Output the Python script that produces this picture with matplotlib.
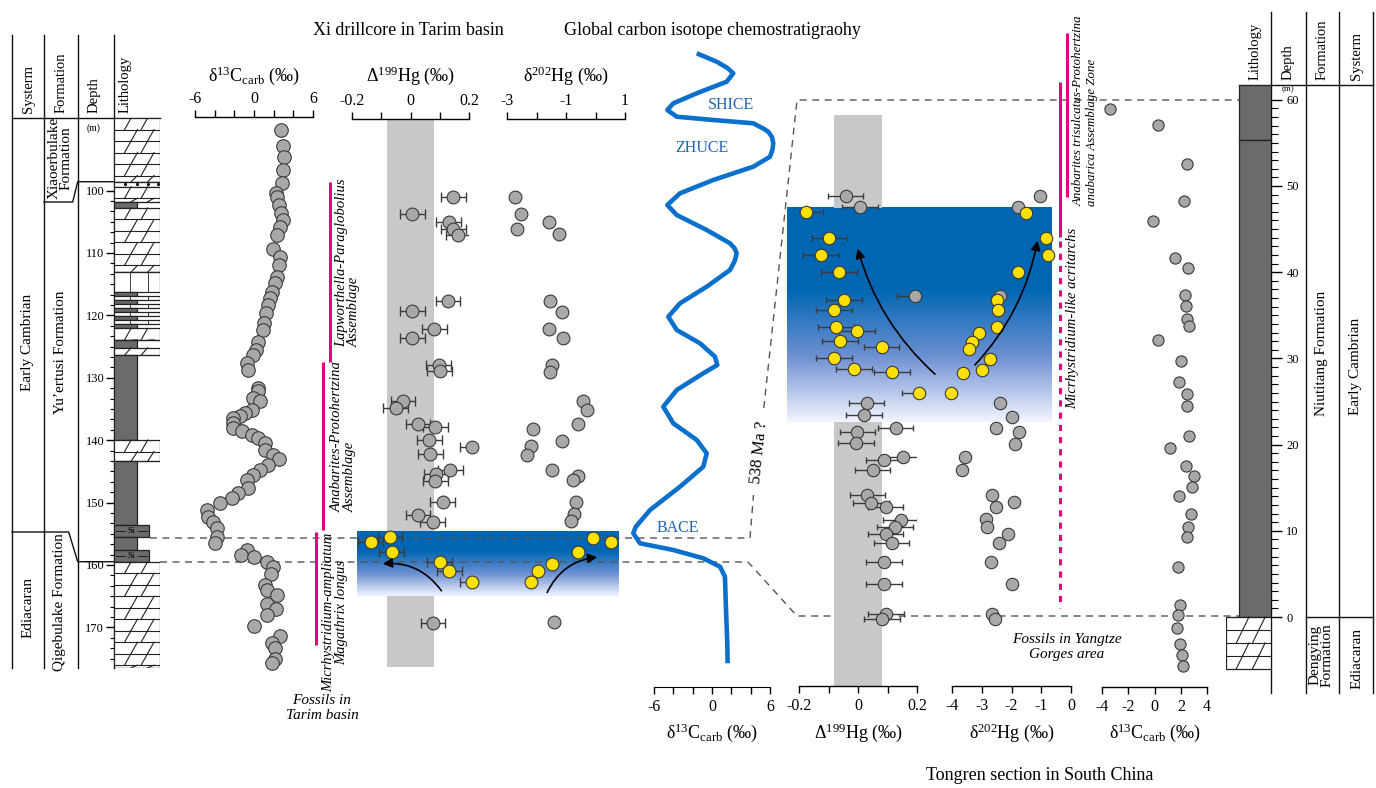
import matplotlib
matplotlib.use("Agg")
import matplotlib.pyplot as plt
import numpy as np
from matplotlib.patches import Rectangle
from matplotlib.colors import LinearSegmentedColormap
from matplotlib.ticker import FuncFormatter

plt.rcParams['font.family'] = ['Liberation Serif', 'DejaVu Serif']
plt.rcParams['mathtext.fontset'] = 'custom'
plt.rcParams['mathtext.rm'] = 'Liberation Serif'
plt.rcParams['mathtext.it'] = 'Liberation Serif:italic'
plt.rcParams['axes.unicode_minus'] = False

# ---------------- Xi drillcore, Tarim basin (depth in m) ----------------
xi_c_depth = [90.3, 92.8, 94.6, 96.7, 98.8, 100.4, 101.1, 102.4, 103.6, 104.7, 105.8, 107.1,
              109.4, 110.7, 111.9, 113.8, 114.9, 116.2, 117.3, 118.3, 119.7, 121.3, 122.4,
              124.2, 125.6, 126.4, 127.7, 128.8, 131.7, 132.2, 133.3, 133.8, 135.2, 135.7,
              136.2, 136.5, 137.3, 138.1, 138.6, 139.2, 139.7, 140.5, 141.6, 142.4, 143.1,
              144.0, 144.8, 145.6, 146.4, 147.7, 148.5, 149.3, 150.1, 151.2, 152.3, 153.1,
              154.1, 155.5, 156.5, 157.6, 158.4, 158.7, 159.5, 160.3, 161.4, 163.2, 164.0,
              164.8, 166.2, 167.0, 168.0, 169.8, 171.4, 172.5, 173.3, 175.0, 175.7]
xi_c = [2.71, 2.98, 3.09, 2.98, 2.81, 2.24, 2.37, 2.58, 2.75, 2.98, 2.64, 2.31,
        1.96, 2.64, 2.58, 2.31, 2.14, 1.80, 1.63, 1.39, 1.22, 1.02, 0.95,
        0.44, 0.20, -0.07, -0.74, -0.58, 0.44, 0.44, -0.07, 0.61, -0.24, -0.92,
        -1.42, -2.10, -2.10, -2.10, -1.25, -0.24, 0.44, 1.12, 1.12, 1.96, 2.58,
        1.46, 0.61, -0.07, -0.74, -0.58, -1.59, -2.27, -3.46, -4.81, -4.64, -4.14,
        -3.79, -3.79, -3.97, -0.68, -1.36, 0.00, 1.29, 1.96, 1.70, 1.12, 1.29,
        2.31, 1.29, 2.24, 1.29, 0.00, 2.64, 1.80, 2.14, 2.14, 1.80]

xi_d199_depth = [101.0, 103.7, 105.0, 106.1, 107.1, 117.7, 119.3, 122.2, 123.6, 128.0, 129.0,
                 133.7, 134.9, 137.4, 137.9, 140.0, 141.1, 142.2, 144.8, 145.5, 146.6,
                 150.0, 152.0, 153.1, 169.3]
xi_d199 = [0.147, 0.006, 0.130, 0.147, 0.164, 0.128, 0.006, 0.082, 0.006, 0.096, 0.100,
           -0.026, -0.051, 0.025, 0.085, 0.064, 0.211, 0.068, 0.136, 0.087, 0.085,
           0.110, 0.025, 0.076, 0.077]
xi_d202_depth = [101.1, 103.7, 105.0, 106.2, 107.0, 117.7, 119.4, 122.2, 123.7, 128.0, 129.1,
                 133.7, 135.1, 137.4, 138.2, 140.1, 140.9, 142.4, 144.8, 145.7, 146.4,
                 150.0, 151.9, 152.9, 169.2]
xi_d202 = [-2.73, -2.53, -1.58, -2.67, -1.24, -1.55, -1.15, -1.57, -1.09, -1.46, -1.54,
           -0.42, -0.28, -0.61, -2.11, -1.15, -2.17, -2.31, -1.46, -0.61, -0.75,
           -0.67, -0.72, -0.83, -1.40]
xi_hg_err = 0.042

xi_y199_depth = [156.3, 155.6, 157.9, 159.6, 161.0, 162.8]
xi_y199 = [-0.136, -0.070, -0.064, 0.100, 0.133, 0.210]
xi_y202_depth = [155.7, 156.3, 158.0, 159.8, 161.0, 162.8]
xi_y202 = [-0.07, 0.52, -0.61, -1.49, -1.96, -2.19]

# lithology of the drillcore: top, base (m) and rock type
xi_bed_top = [88.4, 98.6, 99.4, 101.8, 102.8, 113.1, 116.2, 116.9, 117.5, 118.2, 118.8,
              119.5, 120.1, 120.8, 121.4, 122.1, 124.0, 125.2, 126.4, 140.0, 143.4,
              153.6, 155.5, 157.6, 159.5]
xi_bed_base = [98.6, 99.4, 101.8, 102.8, 113.1, 116.2, 116.9, 117.5, 118.2, 118.8, 119.5,
               120.1, 120.8, 121.4, 122.1, 124.0, 125.2, 126.4, 140.0, 143.4, 153.6,
               155.5, 157.6, 159.5, 176.5]
xi_bed_kind = ['ls', 'dots', 'ls', 'mud', 'ls', 'thin', 'mud', 'thin', 'mud', 'thin', 'mud',
               'thin', 'mud', 'thin', 'mud', 'ls', 'mud', 'ls', 'mud', 'ls', 'mud',
               'si', 'mud', 'si', 'ls']

# shaded excursion interval and the Δ199Hg background range
xi_shade = (154.6, 165.0)
hg_band = (-0.08, 0.08)

# ---------------- global composite δ13C curve ----------------
curve_h = [633.7, 625.3, 619.0, 613.7, 605.3, 593.7, 583.7, 577.0, 570.3, 567.0, 563.7,
           558.5, 555.3, 550.0, 543.7, 537.0, 530.3, 520.3, 507.0, 493.7, 482.0, 472.0,
           457.0, 443.7, 438.5, 433.7, 426.0, 417.0, 400.3, 383.7, 370.3, 357.0, 343.7,
           330.3, 322.0, 313.7, 297.0, 280.3, 263.7, 247.0, 233.7, 220.3, 200.3, 177.0,
           160.0, 153.7, 143.7, 137.0, 128.7, 120.3, 110.3, 77.0, 43.7, 23.7]
curve_c = [-1.58, 0.49, 1.60, 2.20, 1.52, -1.58, -4.00, -4.62, -3.65, 0.13, 4.27,
           5.30, 5.82, 6.20, 6.34, 6.25, 6.00, 4.27, 0.13, -3.31, -4.62, -3.65,
           -0.55, 1.86, 2.35, 2.55, 2.35, 1.86, -0.55, -3.31, -4.52, -3.65, -1.24,
           0.31, 0.55, -0.90, -3.65, -5.04, -4.00, -1.58, -0.55, -0.90, -3.31, -6.41,
           -7.90, -8.14, -7.45, -4.00, -0.90, 0.83, 1.34, 1.45, 1.58, 1.62]
curve_events = ['SHICE', 'ZHUCE', 'BACE']

# ---------------- Tongren section, South China (height in m) ----------------
tr_g199_depth = [48.8, 47.6, 37.2, 24.8, 23.4, 21.9, 21.5, 20.2, 18.6, 18.2, 17.0, 14.2,
                 13.2, 12.8, 11.3, 10.4, 9.6, 8.6, 6.4, 3.8, 0.3, -0.2]
tr_g199 = [-0.042, 0.007, 0.193, 0.029, 0.020, 0.128, -0.002, -0.007, 0.152, 0.088, 0.050,
           0.032, 0.044, 0.094, 0.145, 0.125, 0.094, 0.114, 0.088, 0.088, 0.095, 0.081]
tr_g202_depth = [48.8, 47.6, 37.2, 24.8, 23.2, 21.9, 21.5, 20.1, 18.6, 17.0, 14.2, 13.3,
                 12.8, 11.4, 10.4, 9.6, 8.6, 6.4, 3.8, 0.3, -0.2]
tr_g202 = [-1.04, -1.77, -2.39, -2.39, -1.99, -2.52, -1.74, -1.88, -3.56, -3.65, -2.65, -1.91,
           -2.53, -2.86, -2.81, -2.11, -2.42, -2.70, -1.99, -2.67, -2.55]
tr_y199_depth = [47.0, 44.0, 42.0, 40.0, 36.8, 35.6, 33.6, 33.2, 32.0, 31.3, 30.0, 28.8,
                 28.4, 26.0]
tr_y199 = [-0.177, -0.097, -0.125, -0.064, -0.047, -0.081, -0.075, -0.004, -0.061, 0.080,
           -0.081, -0.014, 0.115, 0.208]
tr_y202_depth = [46.9, 44.0, 42.0, 40.0, 36.8, 35.6, 33.6, 33.0, 31.9, 31.1, 29.9, 28.7,
                 28.3, 26.0]
tr_y202 = [-1.51, -0.85, -0.76, -1.79, -2.48, -2.44, -2.50, -3.10, -3.32, -3.43, -2.72,
           -3.00, -3.62, -4.04]
tr_hg_err = 0.06

tr_c_depth = [58.9, 57.1, 52.5, 48.3, 45.9, 41.7, 40.5, 37.4, 36.1, 34.6, 33.8, 32.1,
              29.7, 27.3, 25.9, 24.5, 21.0, 19.6, 17.5, 16.4, 15.1, 14.0, 12.0, 10.4,
              9.3, 5.8, 1.4, 0.2, -1.3, -3.1, -4.4, -5.7]
tr_c = [-3.36, 0.25, 2.44, 2.24, -0.10, 1.58, 2.52, 2.31, 2.37, 2.49, 2.62, 0.28,
        2.04, 1.86, 2.49, 2.44, 2.62, 1.17, 2.37, 3.00, 2.82, 1.86, 2.75, 2.54,
        2.44, 1.78, 1.93, 1.78, 1.73, 1.93, 2.11, 2.16]

tr_bed_top = [61.7, 55.3, 0.0]
tr_bed_base = [55.3, 0.0, -6.0]
tr_bed_kind = ['mud', 'mud', 'ls']
tr_shade = (22.6, 47.45)
tr_band_span = (-8.0, 58.2)

GREY = '#a8a8a8'
YELLOW = '#ffe000'
EDGE = '#3a3a3a'
MAGENTA = '#e4007f'
CURVE = '#0a70cc'
EVENT = '#1f63b5'

W, H = 1376, 788
fig = plt.figure(figsize=(W / 100, H / 100), dpi=100)


def px_axes(x0, y0, x1, y1, z=1):
    ax = fig.add_axes([x0 / W, 1 - y1 / H, (x1 - x0) / W, (y1 - y0) / H], zorder=z)
    ax.patch.set_visible(False)
    return ax


def canvas(z):
    ax = px_axes(0, 0, W, H, z)
    ax.set_xlim(0, W)
    ax.set_ylim(H, 0)
    ax.axis('off')
    return ax


bg = canvas(0)
fg = canvas(5)


def xi_y(d):
    return 190.5 + (d - 100) * 6.24


def xi_d(y):
    return 100 + (y - 190.5) / 6.24


def tr_y(d):
    return 617 - d * 8.62


def tr_d(y):
    return (617 - y) / 8.62


fmt = FuncFormatter(lambda v, p: '%g' % v)


def iso_axis(x0, x1, y0, y1, xlim, major, minor, side, depth_of):
    ax = px_axes(x0, y0, x1, y1)
    ax.set_xlim(*xlim)
    ax.set_ylim(depth_of(y1), depth_of(y0))
    for s in ('left', 'right', 'top', 'bottom'):
        ax.spines[s].set_visible(s == side)
    ax.spines[side].set_linewidth(1)
    if side == 'top':
        ax.xaxis.tick_top()
    ax.set_xticks(major)
    ax.set_xticks(minor, minor=True)
    ax.xaxis.set_major_formatter(fmt)
    ax.tick_params(axis='x', which='both', direction='out', length=5, width=1,
                   labelsize=11.5, pad=2 if side == 'top' else 3.5)
    ax.set_yticks([])
    return ax


def dots(ax, x, d, fc, s, xerr=None, cap=3.5):
    if xerr is not None:
        ax.errorbar(x, d, xerr=xerr, fmt='none', ecolor='#3c3c3c', elinewidth=1,
                    capsize=cap, capthick=1, zorder=2)
    ax.scatter(x, d, s=s, c=fc, edgecolors=EDGE, linewidths=0.8, zorder=3, clip_on=False)


def draw_beds(ax, tops, bases, kinds, widths, row, down):
    # down=True when values grow downward on the axis (depth), False for height
    for top, base, kind in zip(tops, bases, kinds):
        x0, x1 = widths[kind]
        w = x1 - x0
        lo, hi = min(top, base), max(top, base)
        if kind in ('mud', 'si'):
            ax.add_patch(Rectangle((x0, lo), w, hi - lo, fc='#6b6b6b', ec='#222222', lw=0.9))
            if kind == 'si':
                mid = (lo + hi) / 2
                ax.text(x0 + 0.5 * w, mid, 'Si', fontsize=6.5, ha='center', va='center')
                ax.plot([x0 + 0.05 * w, x0 + 0.32 * w], [mid, mid], color='#222222', lw=0.7)
                ax.plot([x0 + 0.68 * w, x0 + 0.95 * w], [mid, mid], color='#222222', lw=0.7)
            continue
        ax.add_patch(Rectangle((x0, lo), w, hi - lo, fc='white', ec='#222222', lw=0.9))
        if kind == 'ls':
            r, i = lo, 0
            while r < hi - 1e-6:
                r2 = min(r + row, hi)
                ax.plot([x0, x1], [r2, r2], color='#222222', lw=0.8)
                low, up = (r2, r) if down else (r, r2)
                off = 0.14 if i % 2 else 0.0
                for xc in (0.3 + off, 0.66 + off):
                    ax.plot([x0 + (xc - 0.07) * w, x0 + (xc + 0.07) * w], [low, up],
                            color='#222222', lw=0.8)
                r, i = r2, i + 1
        elif kind == 'thin':
            for xc in (0.35, 0.75):
                ax.plot([x0 + xc * w] * 2, [lo, hi], color='#222222', lw=0.6)
        elif kind == 'dots':
            mid = (lo + hi) / 2
            ax.scatter([x0 + f * w for f in (0.25, 0.5, 0.75, 0.95)], [mid] * 4, s=1.5, c='k')


def shade_box(x0, x1, y0, y1, solid):
    cmap = LinearSegmentedColormap.from_list('sh', [(0, (0.0, 0.40, 0.70)),
                                                    (solid, (0.0, 0.40, 0.70)),
                                                    (0.5 + solid / 2, (0.42, 0.56, 0.82)),
                                                    (1, (0.95, 0.96, 1.0))])
    grad = cmap(np.linspace(0, 1, 256))[:, :3]
    bg.imshow(grad[:, None, :], extent=(x0, x1, y1, y0), aspect='auto', origin='upper',
              zorder=1, interpolation='bilinear')


# ---------------- left: Xi drillcore ----------------
lith = px_axes(114, 118, 160, 668)
lith.set_xlim(0, 1)
lith.set_ylim(xi_d(668), xi_d(118))
for s in lith.spines.values():
    s.set_visible(False)
lith.set_xticks([])
draw_beds(lith, xi_bed_top, xi_bed_base, xi_bed_kind,
          {'ls': (0, 1), 'thin': (0, 1), 'dots': (0, 1), 'mud': (0, 0.5), 'si': (0, 0.76)},
          1.84, True)
lith.set_yticks(range(100, 171, 10))
lith.set_yticks(np.arange(100, 176, 10 / 6), minor=True)
lith.tick_params(axis='y', which='major', direction='out', length=6, width=1, labelsize=9, pad=1)
lith.tick_params(axis='y', which='minor', direction='out', length=3, width=0.8)

ax_c = iso_axis(195, 313, 117, 668, (-6, 6), [-6, 0, 6], [-4, -2, 2, 4], 'top', xi_d)
dots(ax_c, xi_c, xi_c_depth, GREY, 95)

ax_h1 = iso_axis(352, 469, 119, 668, (-0.2, 0.2), [-0.2, 0, 0.2], [-0.1, 0.1], 'top', xi_d)
ax_h2 = iso_axis(507, 625, 119, 668, (-3, 1), [-3, -1, 1], [-2, 0], 'top', xi_d)
for top, base in ((xi_d(119), xi_shade[0]), (xi_shade[1], xi_d(667))):
    ax_h1.add_patch(Rectangle((hg_band[0], top), hg_band[1] - hg_band[0], base - top,
                              fc='#c8c8c8', ec='none', zorder=0))
dots(ax_h1, xi_d199, xi_d199_depth, GREY, 85, xi_hg_err)
dots(ax_h1, xi_y199, xi_y199_depth, YELLOW, 85, xi_hg_err)
dots(ax_h2, xi_d202, xi_d202_depth, GREY, 85)
dots(ax_h2, xi_y202, xi_y202_depth, YELLOW, 85)
shade_box(357, 619, xi_y(xi_shade[0]), xi_y(xi_shade[1]), 0.3)

# ---------------- middle: global curve ----------------
ax_g = px_axes(654, 40, 770, 687)
ax_g.set_xlim(-6, 6)
ax_g.set_ylim(0, 647)
for s in ('left', 'right', 'top'):
    ax_g.spines[s].set_visible(False)
ax_g.set_xticks([-6, 0, 6])
ax_g.set_xticks([-4, -2, 2, 4], minor=True)
ax_g.xaxis.set_major_formatter(fmt)
ax_g.tick_params(axis='x', which='both', direction='out', length=5, width=1, labelsize=11.5, pad=3.5)
ax_g.set_yticks([])
ax_g.plot(curve_c, curve_h, color=CURVE, lw=3.3, solid_joinstyle='round',
          solid_capstyle='butt', clip_on=False)
for name, (x, y) in zip(curve_events, [(731, 105), (702, 148), (678, 528)]):
    fg.text(x, y, name, color=EVENT, fontsize=11.5, ha='center', va='center')

# ---------------- right: Tongren section ----------------
ax_r1 = iso_axis(799, 917, 85, 686, (-0.2, 0.2), [-0.2, 0, 0.2], [-0.1, 0.1], 'bottom', tr_d)
ax_r2 = iso_axis(952, 1071, 85, 686, (-4, 0), [-4, -3, -2, -1, 0], [], 'bottom', tr_d)
ax_r3 = iso_axis(1102, 1207, 85, 687, (-4, 4), [-4, -2, 0, 2, 4], [], 'bottom', tr_d)
for top, base in ((tr_band_span[1], tr_shade[1]), (tr_shade[0], tr_band_span[0])):
    ax_r1.add_patch(Rectangle((hg_band[0], base), hg_band[1] - hg_band[0], top - base,
                              fc='#c8c8c8', ec='none', zorder=0))
dots(ax_r1, tr_g199, tr_g199_depth, GREY, 80, tr_hg_err, cap=2.5)
dots(ax_r1, tr_y199, tr_y199_depth, YELLOW, 80, tr_hg_err, cap=2.5)
dots(ax_r2, tr_g202, tr_g202_depth, GREY, 80)
dots(ax_r2, tr_y202, tr_y202_depth, YELLOW, 80)
dots(ax_r3, tr_c, tr_c_depth, GREY, 65)
shade_box(787, 1052, tr_y(tr_shade[1]), tr_y(tr_shade[0]), 0.38)

rl = px_axes(1226, 85, 1271, 693)
rl.set_xlim(0, 1)
rl.set_ylim(tr_d(693), tr_d(85))
for s in rl.spines.values():
    s.set_visible(False)
rl.set_xticks([])
draw_beds(rl, tr_bed_top, tr_bed_base, tr_bed_kind, {'ls': (0, 1), 'mud': (0.289, 1)},
          1.5, False)
rl.yaxis.tick_right()
rl.set_yticks(range(0, 61, 10))
rl.set_yticks(range(0, 61), minor=True)
rl.tick_params(axis='y', which='major', direction='out', length=8, width=1, labelsize=9, pad=3)
rl.tick_params(axis='y', which='minor', direction='out', length=5, width=0.8)

bg.set_xlim(0, W)
bg.set_ylim(H, 0)

# ---------------- frames, correlation lines, labels ----------------
k = dict(color='#111111', lw=1)
for x in (12, 44, 78, 114):
    bg.plot([x, x], [35, 668], **k)
bg.plot([12, 160], [118, 118], **k)
bg.plot([44, 72.7, 77.7, 114], [202, 202, 181.7, 181.7], **k)
bg.plot([12, 68.7, 77.7, 114], [532, 532, 561.7, 561.7], **k)
for x in (1271, 1306, 1339, 1373):
    bg.plot([x, x], [12, 693], **k)
bg.plot([1239, 1373], [85, 85], **k)
bg.plot([1306, 1373], [617, 617], **k)

dk = dict(color='#555555', lw=1, dashes=(5, 4), zorder=3)
bg.plot([150, 750, 753.5], [538, 538, 495], **dk)
bg.plot([763.8, 797, 1240], [408, 100, 100], **dk)
bg.plot([160, 748, 797, 1240], [562, 562, 616, 616], **dk)
bg.text(759, 452, '538 Ma ?', rotation=84, fontsize=12, ha='center', va='center')

rv = dict(rotation=90, rotation_mode='anchor', va='center')
for x, name in ((28, 'Systerm'), (61, 'Formation'), (94, 'Depth'), (125, 'Lithology')):
    bg.text(x, 113, name, ha='left', fontsize=10.5, **rv)
for x, name in ((1255, 'Lithology'), (1288, 'Depth'), (1322, 'Formation'), (1356, 'Systerm')):
    bg.text(x, 80, name, ha='left', fontsize=10.5, **rv)
bg.text(94, 128, '(m)', fontsize=7, ha='center', va='center')
bg.text(1288, 89, '(m)', fontsize=6.5, ha='center', va='center')

bg.text(28, 342, 'Early Cambrian', ha='center', fontsize=11, **rv)
bg.text(28, 607, 'Ediacaran', ha='center', fontsize=11, **rv)
bg.text(60, 158, 'Xiaoerbulake\nFormation', ha='center', fontsize=11, linespacing=0.9, **rv)
bg.text(60, 352, 'Yu\u2019ertusi Formation', ha='center', fontsize=11, **rv)
bg.text(60, 602, 'Qigebulake Formation', ha='center', fontsize=11, **rv)
bg.text(1322, 353, 'Niutitang Formation', ha='center', fontsize=11, **rv)
bg.text(1356, 366, 'Early Cambrian', ha='center', fontsize=11, **rv)
bg.text(1321, 655, 'Dengying\nFormation', ha='center', fontsize=11, linespacing=0.9, **rv)
bg.text(1357, 658, 'Ediacaran', ha='center', fontsize=11, **rv)

# section titles and axis titles
bg.text(408, 30, 'Xi drillcore in Tarim basin', fontsize=13, ha='center', va='center')
bg.text(712, 30, 'Global carbon isotope chemostratigraohy', fontsize=13, ha='center', va='center')
bg.text(1040, 776, 'Tongren section in South China', fontsize=13, ha='center', va='center')
c_lab = '\u03b4$^{13}$C$_{\\rm carb}$ (\u2030)'
d199_lab = '\u0394$^{199}$Hg (\u2030)'
d202_lab = '\u03b4$^{202}$Hg (\u2030)'
for x, lab in ((254, c_lab), (410, d199_lab), (566, d202_lab)):
    bg.text(x, 76, lab, fontsize=13, ha='center', va='center')
for x, lab in ((712, c_lab), (858, d199_lab), (1012, d202_lab), (1155, c_lab)):
    bg.text(x, 733, lab, fontsize=13, ha='center', va='center')

# fossil assemblage ranges
mk = dict(color=MAGENTA, lw=2.2, solid_capstyle='butt')
fg.plot([330, 330], [182, 362], **mk)
fg.plot([323, 323], [362, 530], **mk)
fg.plot([316, 316], [532, 645], **mk)
fg.plot([1067, 1067], [33, 197], **mk)
fg.plot([1060, 1060], [82, 237], **mk)
fg.plot([1060, 1060], [241, 608], color=MAGENTA, lw=2.2, dashes=(2, 2))
it = dict(fontstyle='italic', fontsize=10.5, linespacing=1.0, **rv)
fg.text(348, 347, 'Lapworthella-Paraglobolius\nAssemblage', ha='left', multialignment='left', **it)
fg.text(344, 512, 'Anabarites-Protohertzina\nAssemblage', ha='left', multialignment='left', **it)
fg.text(335, 612, 'Micrhystridium-ampliatum\nMagathrix longus', ha='center', multialignment='center', **it)
fg.text(1085, 206, 'Anabarites trisulcatus-Protohertzina\nanabarica Assemblage Zone',
        ha='left', multialignment='left', fontstyle='italic', fontsize=9.3, linespacing=1.15, **rv)
fg.text(1073, 318, 'Micrhystridium-like acritarchs', ha='center', **it)
fg.text(322, 708, 'Fossils in\nTarim basin', fontstyle='italic', fontsize=11, ha='center',
        va='center', linespacing=1.2)
fg.text(1067, 647, 'Fossils in Yangtze\nGorges area', fontstyle='italic', fontsize=11,
        ha='center', va='center', linespacing=1.2)

# trend arrows inside the shaded intervals
ar = dict(arrowstyle='-|>', color='black', lw=1.2, mutation_scale=14)
fg.annotate('', xy=(380, 564), xytext=(443, 593),
            arrowprops=dict(connectionstyle='arc3,rad=0.3', **ar))
fg.annotate('', xy=(600, 557), xytext=(546, 595),
            arrowprops=dict(connectionstyle='arc3,rad=-0.3', **ar))
fg.annotate('', xy=(857, 246), xytext=(937, 376),
            arrowprops=dict(connectionstyle='arc3,rad=-0.15', **ar))
fg.annotate('', xy=(1038, 238), xytext=(973, 367),
            arrowprops=dict(connectionstyle='arc3,rad=0.15', **ar))

fig.savefig('out.png', dpi=100)
